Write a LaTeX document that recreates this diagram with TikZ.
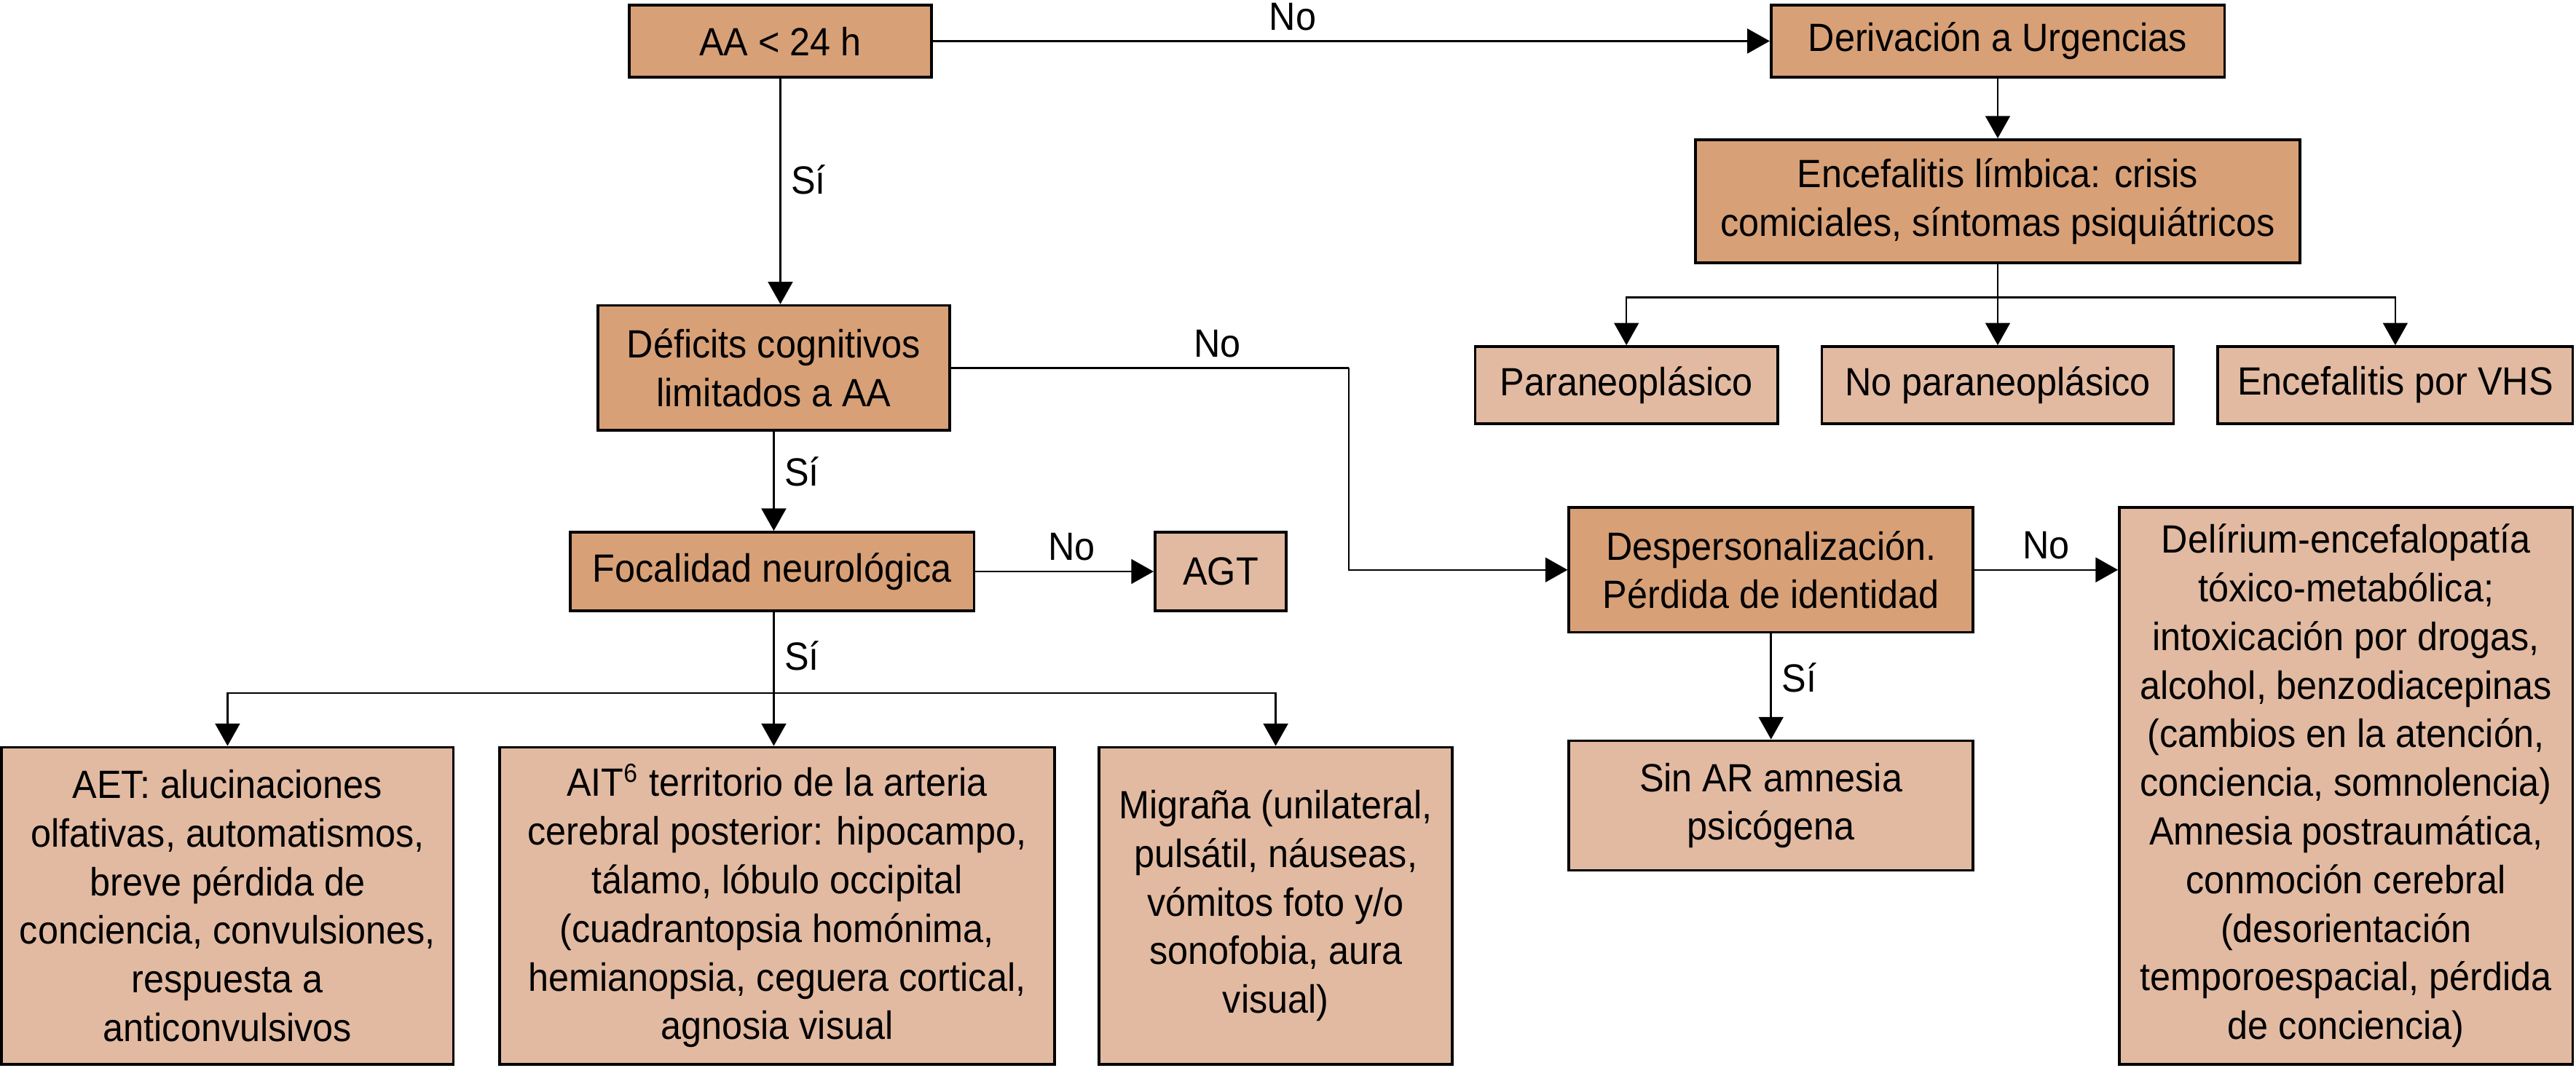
\documentclass[tikz,border=0pt]{standalone}
\usepackage{fontspec}
\setmainfont{Liberation Sans}[FakeStretch=0.93]
\usetikzlibrary{arrows.meta}
\definecolor{boxdark}{HTML}{D8A076}
\definecolor{boxlight}{HTML}{E2BAA1}
\tikzset{
  every node/.style={font=\fontsize{12}{14.8}\selectfont},
  wh/.style 2 args={minimum width=#1pt, minimum height=#2pt},
  darkbox/.style={draw, line width=0.8pt, fill=boxdark, inner sep=0pt, align=center},
  lightbox/.style={draw, line width=0.8pt, fill=boxlight, inner sep=0pt, align=center},
  link/.style={line width=0.55pt},
  arr/.style={link, -{Triangle[length=6.8pt,width=7.5pt]}},
  lbl/.style={inner sep=3pt},
}

\begin{document}
\begin{tikzpicture}[x=0.5pt, y=-0.5pt]
		%%%%% START %%%%%
		\useasboundingbox (0, 0) rectangle (1568, 650);
		
		% top row
		\node[darkbox, wh={92}{22}] (aa) at (475, 25) {AA < 24 h};
		\node[darkbox, wh={138}{22}] (deriv) at (1216, 25) {Derivación a Urgencias};
		\node[darkbox, wh={184}{37.5}] (encef) at (1216, 122.5) {Encefalitis límbica: crisis\\comiciales, síntomas psiquiátricos};
		
		\node[lightbox, wh={92}{23.5}] (para) at (990, 234.5) {Paraneoplásico};
		\node[lightbox, wh={107}{23.5}] (nopara) at (1216, 234.5) {No paraneoplásico};
		\node[lightbox, wh={108}{23.5}] (vhs) at (1458, 234.5) {Encefalitis por VHS};
		
		% left column
		\node[darkbox, wh={107}{38}] (defic) at (471, 224) {Déficits cognitivos\\limitados a AA};
		\node[darkbox, wh={123}{24}] (focal) at (470, 348) {Focalidad neurológica};
		\node[lightbox, wh={40}{24}] (agt) at (743, 348) {AGT};
		
		\node[lightbox, wh={137.5}{96.5}] (aet) at (138.5, 551.5) {AET: alucinaciones\\olfativas, automatismos,\\breve pérdida de\\conciencia, convulsiones,\\respuesta a\\anticonvulsivos};
		\node[lightbox, wh={169}{96.5}] (ait) at (473, 551.5) {AIT\textsuperscript{6} territorio de la arteria\\cerebral posterior: hipocampo,\\tálamo, lóbulo occipital\\(cuadrantopsia homónima,\\hemianopsia, ceguera cortical,\\agnosia visual};
		\node[lightbox, wh={107.5}{96.5}] (migr) at (776.5, 551.5) {Migraña (unilateral,\\pulsátil, náuseas,\\vómitos foto y/o\\sonofobia, aura\\visual)};
		
		% right part
		\node[darkbox, wh={123}{38}] (desp) at (1078, 347) {Despersonalización.\\Pérdida de identidad};
		\node[lightbox, wh={123}{39.5}] (sinar) at (1078, 490.5) {Sin AR amnesia\\psicógena};
		\node[lightbox, wh={138}{169.5}] (delir) at (1428, 478.5) {Delírium-encefalopatía\\tóxico-metabólica;\\intoxicación por drogas,\\alcohol, benzodiacepinas\\(cambios en la atención,\\conciencia, somnolencia)\\Amnesia postraumática,\\conmoción cerebral\\(desorientación\\temporoespacial, pérdida\\de conciencia)};
		
		% connectors
		\coordinate (ebranch) at (1216, 181);
		\coordinate (fbranch) at (471, 422);
		\coordinate (dturn) at (821, 224);
		
		\draw[arr] (aa) -- node[lbl, above, pos=0.43] {No} (deriv);
		\draw[arr] (deriv) -- (encef);
		\draw[link] (encef) -- (ebranch);
		\draw[arr] (ebranch) -| (para);
		\draw[arr] (ebranch) -- (nopara);
		\draw[arr] (ebranch) -| (vhs);
		
		\draw[arr] (aa.south |- aa.south) -- node[lbl, right, pos=0.45] {Sí} (aa.south |- defic.north);
		\draw[arr] (defic) -- node[lbl, right, pos=0.4] {Sí} (defic.south |- focal.north);
		\draw[arr] (focal) -- node[lbl, above, pos=0.54] {No} (agt);
		\draw[link] (focal.south -| fbranch) -- node[lbl, right, pos=0.54] {Sí} (fbranch);
		\draw[arr] (fbranch) -| (aet);
		\draw[arr] (fbranch) -- (fbranch |- ait.north);
		\draw[arr] (fbranch) -| (migr);
		
		\draw[link] (defic.east) -- node[lbl, above, pos=0.67] {No} (dturn);
		\draw[arr] (dturn) |- (desp.west);
		\draw[arr] (desp) -- node[lbl, right, pos=0.42] {Sí} (sinar);
		\draw[arr] (desp.east) -- node[lbl, above] {No} (desp.east -| delir.west);
		
		%%%%% END %%%%%
	\end{tikzpicture}
\end{document}
